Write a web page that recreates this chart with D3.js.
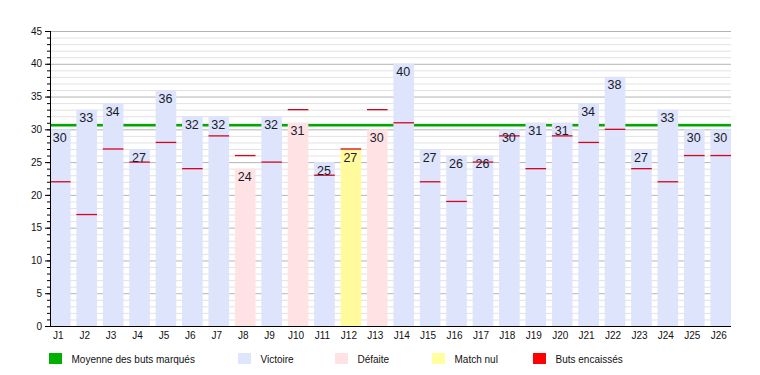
<!DOCTYPE html>
<html>
<head>
<meta charset="utf-8">
<script src="https://cdn.jsdelivr.net/npm/d3@7"></script>
<style>
  body { margin: 0; background: #fff; }
  #chartDiv { width: 760px; height: 375px; }
  text { font-family: "Liberation Sans", Arial, sans-serif; }
</style>
</head>
<body>
<div id="chartDiv"></div>
<script>
// matchdays
var journees = ["J1","J2","J3","J4","J5","J6","J7","J8","J9","J10","J11","J12","J13",
                "J14","J15","J16","J17","J18","J19","J20","J21","J22","J23","J24","J25","J26"];
// buts marqués
var butsMarques = [30,33,34,27,36,32,32,24,32,31,25,27,30,40,27,26,26,30,31,31,34,38,27,33,30,30];
// buts encaissés
var butsEncaisses = [22,17,27,25,28,24,29,26,25,33,23,27,33,31,22,19,25,29,24,29,28,30,24,22,26,26];
// V = victoire, D = défaite, N = match nul
var resultats = ["V","V","V","V","V","V","V","D","V","D","V","N","D",
                 "V","V","V","V","V","V","V","V","V","V","V","V","V"];
var yTicks = [0,5,10,15,20,25,30,35,40,45];
var legendLabels = ["Moyenne des buts marqués","Victoire","Défaite","Match nul","Buts encaissés"];

var colors = {V: "#dde4fb", D: "#ffe2e4", N: "#fffa9c"};
var legendColors = ["#00b000", "#dfe5fc", "#ffe2e6", "#ffff9f", "#ff0000"];

var outerWidth = 760, outerHeight = 375;
var margin = {top: 31, right: 29, bottom: 49, left: 50};
var width = outerWidth - margin.left - margin.right,
    height = outerHeight - margin.top - margin.bottom;

var svg = d3.select("#chartDiv").append("svg")
    .attr("width", outerWidth)
    .attr("height", outerHeight);

var g = svg.append("g")
    .attr("transform", "translate(" + margin.left + "," + margin.top + ")");

var x = d3.scaleBand()
    .domain(journees)
    .range([0, width])
    .paddingInner(0.22)
    .paddingOuter(0);

var y = d3.scaleLinear()
    .domain([0, 45])
    .range([height, 0]);

// minor grid, every 1
g.append("g").selectAll("line")
    .data(d3.range(1, 45).filter(function(v){ return v % 5 !== 0; }))
    .enter().append("line")
    .attr("x1", 0).attr("x2", width)
    .attr("y1", function(d){ return y(d) + 0.5; })
    .attr("y2", function(d){ return y(d) + 0.5; })
    .style("stroke", "#e2e2e2")
    .style("stroke-width", 1);

// major grid
g.append("g").selectAll("line")
    .data(yTicks.slice(1))
    .enter().append("line")
    .attr("x1", 0).attr("x2", width)
    .attr("y1", function(d){ return y(d) + 0.5; })
    .attr("y2", function(d){ return y(d) + 0.5; })
    .style("stroke", "#b4b4b4")
    .style("stroke-width", 1);

// average line
var moyenne = d3.mean(butsMarques);
g.append("line")
    .attr("x1", 0).attr("x2", width)
    .attr("y1", y(moyenne)).attr("y2", y(moyenne))
    .style("stroke", "#00a800")
    .style("stroke-width", 2.5);

// bars
g.selectAll(".bar")
    .data(journees)
    .enter().append("rect")
    .attr("class", "bar")
    .attr("x", function(d){ return x(d); })
    .attr("width", x.bandwidth())
    .attr("y", function(d, i){ return y(butsMarques[i]); })
    .attr("height", function(d, i){ return height - y(butsMarques[i]); })
    .style("fill", function(d, i){ return colors[resultats[i]]; });

// conceded markers
g.selectAll(".enc")
    .data(journees)
    .enter().append("line")
    .attr("class", "enc")
    .attr("x1", function(d){ return x(d); })
    .attr("x2", function(d){ return x(d) + x.bandwidth(); })
    .attr("y1", function(d, i){ return y(butsEncaisses[i]); })
    .attr("y2", function(d, i){ return y(butsEncaisses[i]); })
    .style("stroke", "#d4061e")
    .style("stroke-width", 1.3);

// value labels
g.selectAll(".val")
    .data(journees)
    .enter().append("text")
    .attr("class", "val")
    .attr("x", function(d){ return x(d) + x.bandwidth() / 2 - 0.5; })
    .attr("y", function(d, i){ return y(butsMarques[i]) + 12.5; })
    .attr("text-anchor", "middle")
    .style("font-size", "12.5px")
    .style("fill", "#1a1a2a")
    .text(function(d, i){ return butsMarques[i]; });

// y axis
var yAxis = d3.axisLeft(y).tickValues(yTicks).tickSize(5).tickPadding(3);
var yAxisGroup = g.append("g").call(yAxis);
yAxisGroup.select(".domain").remove();
yAxisGroup.selectAll("text").style("font-size", "10px").style("fill", "#111");

var yMinor = d3.axisLeft(y).tickValues(d3.range(0, 46)).tickSize(3).tickFormat("");
var yMinorGroup = g.append("g").call(yMinor);
yMinorGroup.select(".domain").remove();

g.append("line")
    .attr("x1", 0.5).attr("x2", 0.5)
    .attr("y1", 0).attr("y2", height)
    .style("stroke", "#000");

// x axis
var xAxis = d3.axisBottom(x).tickSize(0).tickPadding(6);
var xAxisGroup = g.append("g")
    .attr("transform", "translate(0," + height + ")")
    .call(xAxis);
xAxisGroup.select(".domain").remove();
xAxisGroup.selectAll("text")
    .attr("dx", "-2")
    .style("font-size", "10px")
    .style("fill", "#111");
g.append("line")
    .attr("x1", 0).attr("x2", width)
    .attr("y1", height + 0.5).attr("y2", height + 0.5)
    .style("stroke", "#000");

// legend
var legendX = [49, 238, 335, 432, 533];
var legend = svg.append("g").selectAll("g")
    .data(legendLabels)
    .enter().append("g")
    .attr("transform", function(d, i){ return "translate(" + legendX[i] + ",353)"; });
legend.append("rect")
    .attr("width", 13).attr("height", 11)
    .style("fill", function(d, i){ return legendColors[i]; });
legend.append("text")
    .attr("x", 22.5).attr("y", 9.5)
    .style("font-size", "10px")
    .style("fill", "#111")
    .text(function(d){ return d; });
</script>
</body>
</html>
